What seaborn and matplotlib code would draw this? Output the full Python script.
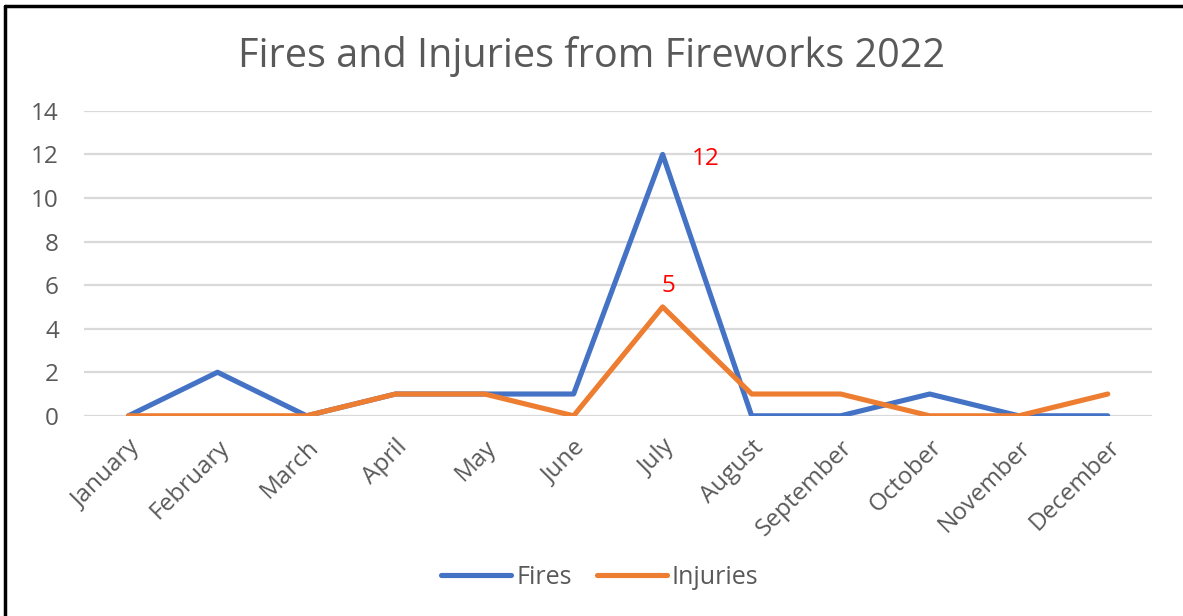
import numpy as np
import pandas as pd
import matplotlib.pyplot as plt
import seaborn as sns

months = ['January', 'February', 'March', 'April', 'May', 'June', 'July',
          'August', 'September', 'October', 'November', 'December']
fires = [0, 2, 0, 1, 1, 1, 12, 0, 0, 1, 0, 0]
injuries = [0, 0, 0, 1, 1, 0, 5, 1, 1, 0, 0, 1]
yticks = [0, 2, 4, 6, 8, 10, 12, 14]

sns.set_style('white')
plt.rcParams['font.family'] = ['Open Sans', 'DejaVu Sans']
grey = '#595959'

df = pd.DataFrame({'month': months, 'Fires': fires, 'Injuries': injuries})
df['pos'] = np.arange(len(months))
long = df.melt(id_vars=['month', 'pos'], value_vars=['Fires', 'Injuries'],
               var_name='series', value_name='count')

fig = plt.figure(figsize=(11.83, 6.16), dpi=100)
ax = fig.add_axes([0.071, 0.325, 0.903, 0.495])

sns.lineplot(data=long, x='pos', y='count', hue='series',
             palette={'Fires': '#4472C4', 'Injuries': '#ED7D31'},
             linewidth=3.7, ax=ax, legend=True, sort=False)

ax.set_xlim(-0.5, len(months) - 0.5)
ax.set_ylim(0, 14)
ax.set_yticks(yticks)
ax.set_xticks(df['pos'])
ax.set_xticklabels(months, rotation=45, ha='right', rotation_mode='anchor')
ax.tick_params(axis='both', colors=grey, labelsize=17.5, length=0)
ax.tick_params(axis='x', pad=14)
ax.tick_params(axis='y', pad=18)
ax.yaxis.grid(True, color='#d9d9d9', linewidth=1.6)
ax.set_axisbelow(True)
for s in ax.spines.values():
    s.set_visible(False)
ax.set_xlabel('')
ax.set_ylabel('')

# data labels at the July peak
jul = months.index('July')
ax.annotate(str(fires[jul]), (jul, fires[jul]), xytext=(21, -3),
            textcoords='offset points', color='red', fontsize=17.5,
            ha='left', va='center')
ax.annotate(str(injuries[jul]), (jul, injuries[jul]), xytext=(4, 15),
            textcoords='offset points', color='red', fontsize=17.5,
            ha='center', va='center')

fig.text(0.5, 0.908, 'Fires and Injuries from Fireworks 2022', ha='center',
         va='center', fontsize=28.5, color=grey)

h, l = ax.get_legend_handles_labels()
ax.legend_.remove()
fig.legend(h, l, loc='center', bbox_to_anchor=(0.507, 0.063), ncol=2,
           frameon=False, fontsize=18, labelcolor=grey, handlelength=2.8,
           handletextpad=0.2, columnspacing=1.0)

# outer border (top and left, as in the screenshot)
fig.add_artist(plt.Line2D([0.004, 1.02], [0.99, 0.99], color='black',
                          linewidth=2.5, transform=fig.transFigure))
fig.add_artist(plt.Line2D([0.004, 0.004], [-0.02, 0.99], color='black',
                          linewidth=2.5, transform=fig.transFigure))

fig.savefig('out.png', dpi=100)
